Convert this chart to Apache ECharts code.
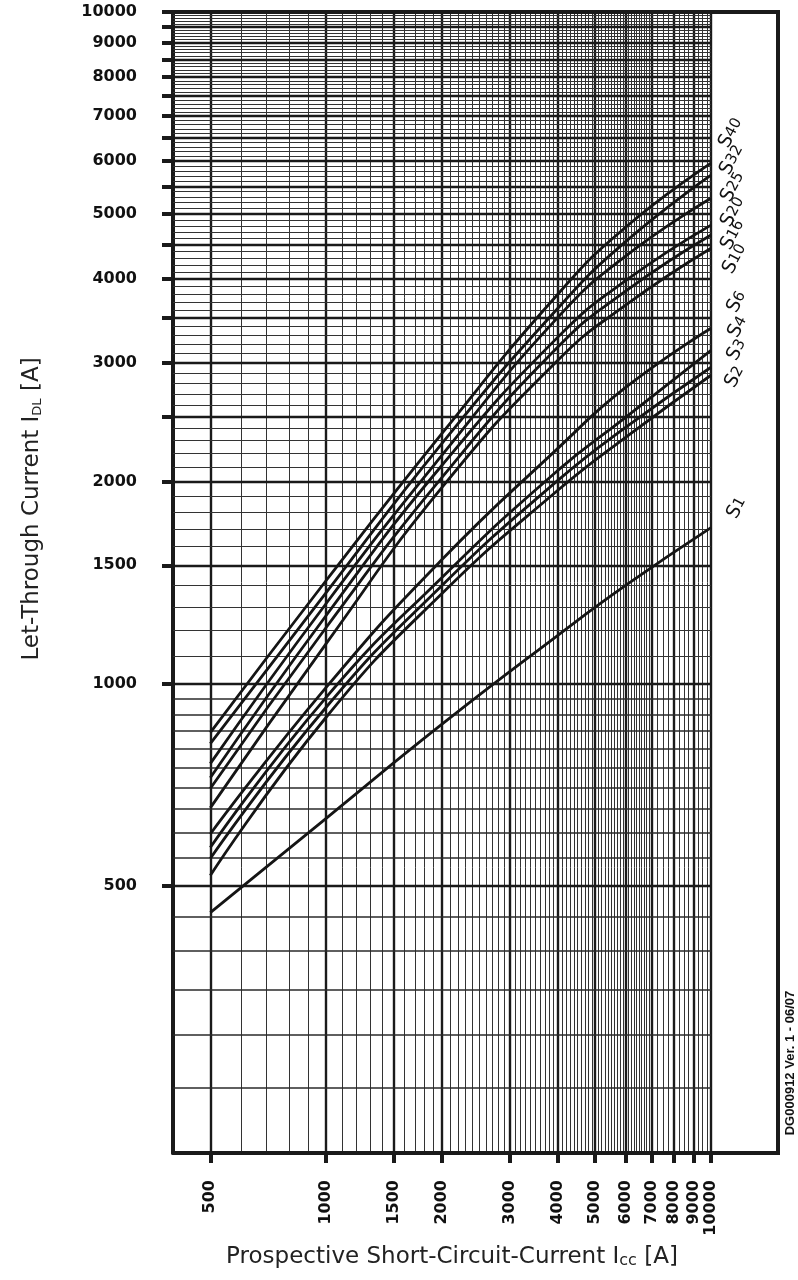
<!DOCTYPE html>
<html>
<head>
<meta charset="utf-8">
<script src="https://cdn.jsdelivr.net/npm/echarts@6/dist/echarts.min.js"></script>
<style>
html, body { margin: 0; padding: 0; background: #fff; }
#main { width: 798px; height: 1280px; }
</style>
</head>
<body>
<div id="main"></div>
<script>
// prospective current (A) where the curves were read
var icc = [500, 1000, 2000, 4000, 6000, 10000];

// let-through current (A) for each fuse size
var s1  = [456, 630, 870, 1180, 1400, 1707];
var s2  = [518, 891, 1362, 1940, 2326, 2878];
var s3  = [549, 922, 1400, 2007, 2407, 2958];
var s4  = [570, 954, 1439, 2077, 2491, 3135];
var s6  = [597, 987, 1530, 2240, 2760, 3382];
var s10 = [653, 1147, 1959, 3030, 3660, 4448];
var s16 = [698, 1212, 2028, 3170, 3840, 4655];
var s20 = [724, 1263, 2114, 3280, 3980, 4816];
var s25 = [760, 1316, 2188, 3510, 4330, 5280];
var s32 = [814, 1366, 2279, 3621, 4550, 5715];
var s40 = [845, 1424, 2358, 3800, 4780, 5957];

var xLabels = [500, 1000, 1500, 2000, 3000, 4000, 5000, 6000, 7000, 8000, 9000, 10000];
var yLabels = [500, 1000, 1500, 2000, 3000, 4000, 5000, 6000, 7000, 8000, 9000, 10000];

var curves = [
  ['s1', s1], ['s2', s2], ['s3', s3], ['s4', s4], ['s6', s6],
  ['s10', s10], ['s16', s16], ['s20', s20], ['s25', s25], ['s32', s32], ['s40', s40]
];

var L = 173, T = 12, R = 711, B = 1153, BOX_R = 778;
var ink = '#1a1a1a';

// y ticks every 500
var yTicks = [];
for (var t = 500; t <= 10000; t += 500) yTicks.push(t);

// log paper grid
var major = { type: 'solid', color: ink, width: 2.4 };
var minor = { type: 'solid', color: '#333', width: 1 };
var lower = { type: 'solid', color: '#2a2a2a', width: 1.6 };
var gridLines = [];
var v;
for (v = 500; v <= 7000; v += 100) {
  gridLines.push({ xAxis: v, lineStyle: xLabels.indexOf(v) >= 0 ? major : minor });
}
for (v = 7250; v <= 10000; v += 250) {
  gridLines.push({ xAxis: v, lineStyle: xLabels.indexOf(v) >= 0 ? major : minor });
}
for (v = 250; v < 1000; v += 50) {
  gridLines.push({ yAxis: v, lineStyle: v % 500 === 0 ? major : lower });
}
for (v = 1000; v < 10000; v += 100) {
  gridLines.push({ yAxis: v, lineStyle: v % 500 === 0 ? major : minor });
}

var series = curves.map(function (c, i) {
  var s = {
    type: 'line',
    name: c[0],
    data: icc.map(function (x, k) { return [x, c[1][k]]; }),
    smooth: 0.5,
    symbol: 'none',
    silent: true,
    z: 3,
    lineStyle: { color: '#151515', width: 2.8 }
  };
  if (i === 0) {
    s.markLine = {
      silent: true,
      symbol: ['none', 'none'],
      label: { show: false },
      lineStyle: { type: 'solid' },
      z: 1,
      animation: false,
      data: gridLines
    };
  }
  return s;
});

// curve names at the right
var tags = [
  ['40', 731, 133], ['32', 732, 160], ['25', 733, 187], ['20', 733, 212],
  ['16', 733, 235], ['10', 735, 259], ['6', 737, 302], ['4', 738, 327],
  ['3', 737, 350], ['2', 735, 377], ['1', 737, 508]
];
var tagEls = tags.map(function (g) {
  return {
    type: 'text', x: g[1], y: g[2], rotation: 62 * Math.PI / 180,
    style: {
      text: '{s|S}{n|' + g[0] + '}',
      align: 'center', verticalAlign: 'middle',
      rich: {
        s: { fontFamily: 'DejaVu Sans', fontSize: 19, fill: '#111', lineHeight: 20, verticalAlign: 'middle' },
        n: { fontFamily: 'DejaVu Sans', fontSize: 15, fill: '#111', lineHeight: 20, verticalAlign: 'middle' }
      }
    }
  };
});

var labelFont = { fontSize: 16, fontFamily: 'DejaVu Sans', fontWeight: 'bold', color: '#111' };

var chart = echarts.init(document.getElementById('main'));
chart.setOption({
  animation: false,
  backgroundColor: '#fff',
  grid: { left: L, top: T, right: 798 - R, bottom: 1280 - B, outerBoundsMode: 'none' },
  xAxis: {
    type: 'log', logBase: 10, min: 400, max: 10000,
    axisLine: { show: true, lineStyle: { color: ink, width: 4 } },
    axisTick: { show: true, customValues: xLabels, length: 10, lineStyle: { color: ink, width: 4 } },
    axisLabel: Object.assign({
      customValues: xLabels, rotate: 90, margin: 27,
      formatter: function (val) { return String(Math.round(val)); }
    }, labelFont),
    splitLine: { show: false }, minorTick: { show: false }, minorSplitLine: { show: false }
  },
  yAxis: {
    type: 'log', logBase: 10, min: 200, max: 10000,
    axisLine: { show: true, lineStyle: { color: ink, width: 4 } },
    axisTick: { show: true, customValues: yTicks, length: 11, lineStyle: { color: ink, width: 4 } },
    axisLabel: Object.assign({
      customValues: yLabels, margin: 36,
      formatter: function (val) { return String(Math.round(val)); }
    }, labelFont),
    splitLine: { show: false }, minorTick: { show: false }, minorSplitLine: { show: false }
  },
  series: series,
  graphic: [
    {
      type: 'polyline', z: 10, silent: true,
      shape: { points: [[L, T], [BOX_R, T], [BOX_R, B], [L, B]] },
      style: { stroke: ink, lineWidth: 4, fill: null }
    },
    {
      type: 'text', x: 452, y: 1255, silent: true,
      style: {
        text: '{a|Prospective Short-Circuit-Current I}{b|cc}{a| [A]}',
        align: 'center', verticalAlign: 'middle',
        rich: {
          a: { fontFamily: 'DejaVu Sans', fontSize: 23, fill: '#222', lineHeight: 28, verticalAlign: 'bottom' },
          b: { fontFamily: 'DejaVu Sans', fontSize: 16, fill: '#222', lineHeight: 22, verticalAlign: 'bottom' }
        }
      }
    },
    {
      type: 'text', x: 30, y: 509, rotation: Math.PI / 2, silent: true,
      style: {
        text: '{a|Let-Through Current I}{b|DL}{a| [A]}',
        align: 'center', verticalAlign: 'middle',
        rich: {
          a: { fontFamily: 'DejaVu Sans', fontSize: 23, fill: '#222', lineHeight: 28, verticalAlign: 'bottom' },
          b: { fontFamily: 'DejaVu Sans', fontSize: 13, fill: '#222', lineHeight: 16, verticalAlign: 'bottom' }
        }
      }
    },
    {
      type: 'text', x: 790, y: 1063, rotation: Math.PI / 2, silent: true,
      style: {
        text: 'DG000912 Ver. 1 - 06/07', align: 'center', verticalAlign: 'middle',
        fontFamily: 'Liberation Sans', fontWeight: 'bold', fontSize: 13, fill: '#111'
      }
    }
  ].concat(tagEls)
});
</script>
</body>
</html>
